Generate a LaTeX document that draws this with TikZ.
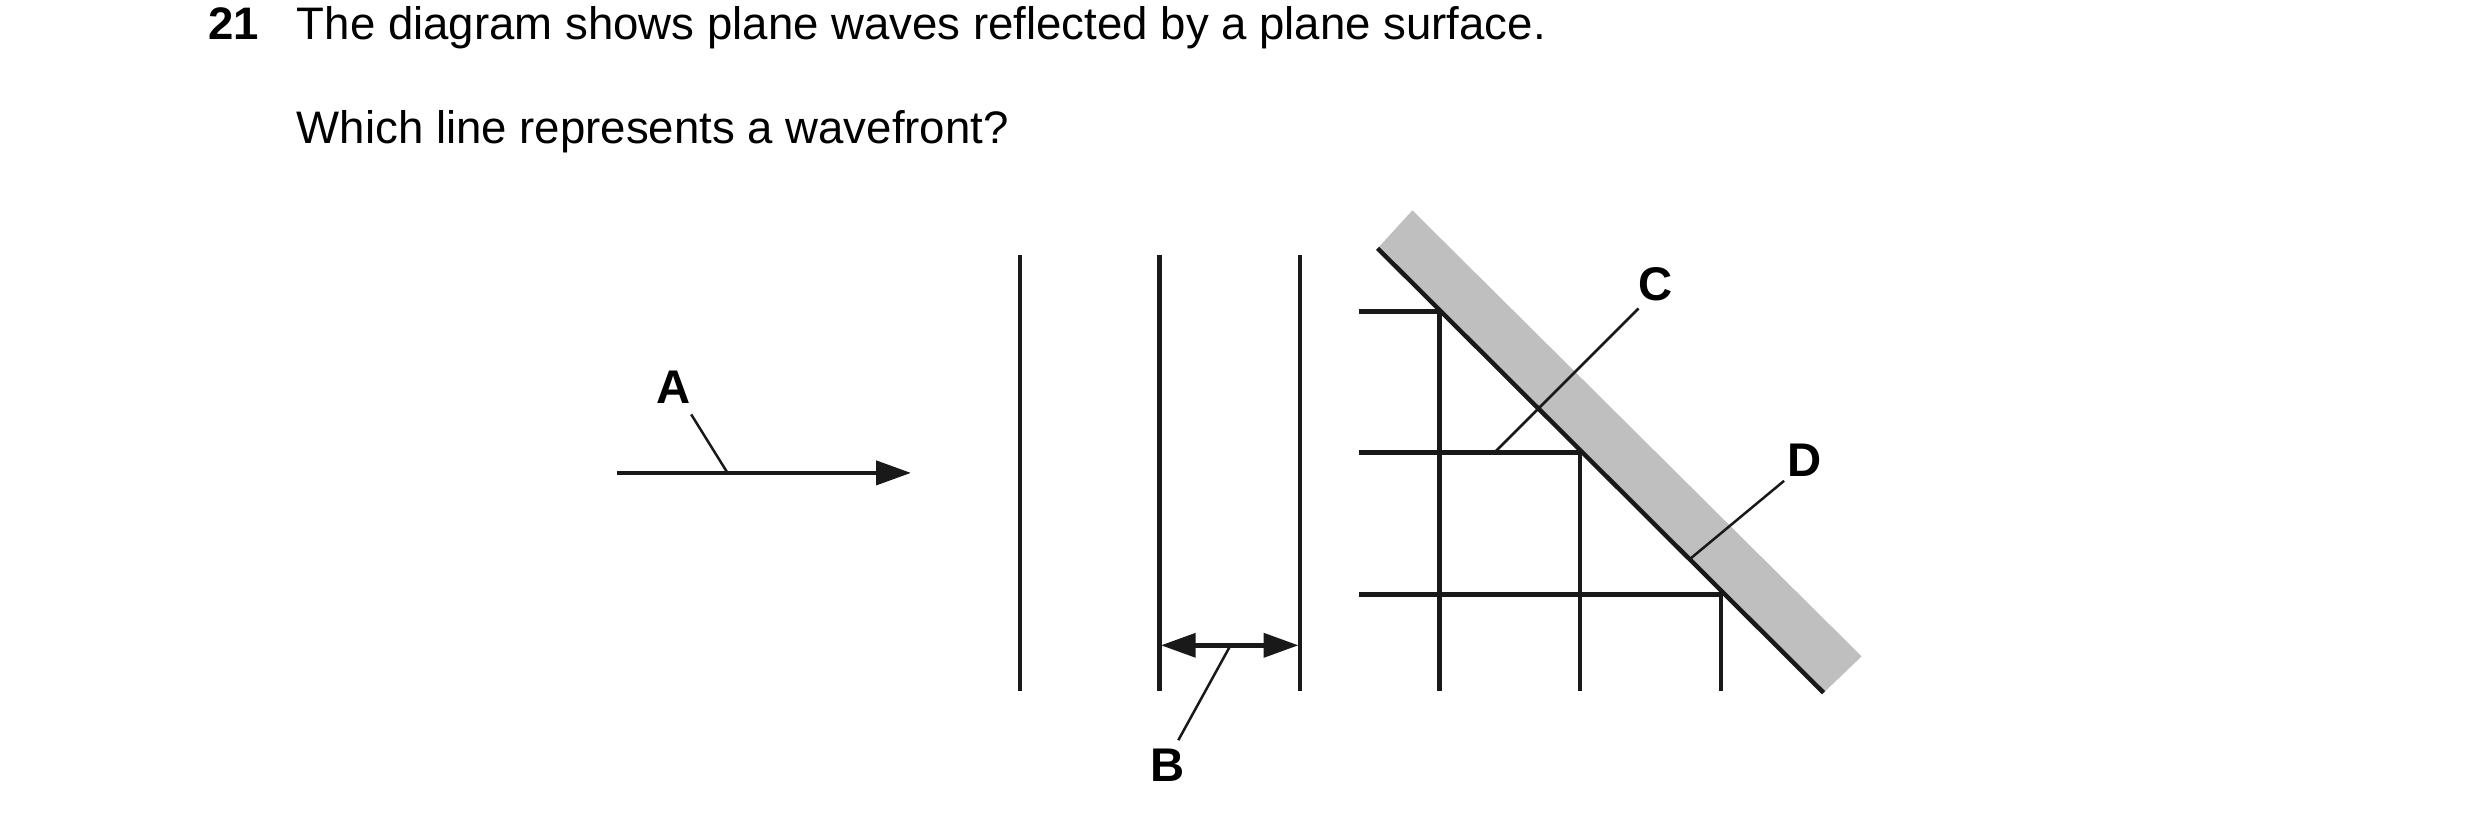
\documentclass[tikz,border=0pt]{standalone}
\usepackage{fontspec}
\setmainfont{Liberation Sans}
\usetikzlibrary{arrows.meta}
\begin{document}
\begin{tikzpicture}[x=0.1mm,y=-0.1mm,
  wave/.style={line width=0.8pt,black!90},
  thin/.style={line width=0.45pt,black!90},
  lab/.style={font=\fontsize{8.5}{10}\selectfont\bfseries,inner sep=0pt},
  txt/.style={font=\fontsize{8.2}{10}\selectfont,inner sep=0pt,anchor=base west},
  tip/.style={-{Triangle[length=2.2mm,width=1.5mm]}}]
\useasboundingbox (0,0) rectangle (1568,519);
\node[txt,font=\fontsize{8.2}{10}\selectfont\bfseries] (n) at (131,25) {21};
\node[txt] (t1) at (187,25) {The diagram shows plane waves reflected by a plane surface.};
\node[txt] (t2) at (187,91) {Which line represents a wavefront?};
% mirror
\fill[gray!50] (871,157) -- (893,133) -- (1177,415) -- (1153,438) -- cycle;
\coordinate (m1) at (871,157); \coordinate (m2) at (1153,438);
\draw[wave] (m1) -- (m2);
% ray A
\coordinate (a1) at (390,299); \coordinate (a2) at (576,299);
\draw[wave,tip] (a1) -- (a2);
\node[lab] (A) at (426,245) {A};
\coordinate (ap1) at (437,262); \coordinate (ap2) at (460,299);
\draw[thin] (ap1) -- (ap2);
% incident wavefronts
\foreach \x/\n in {645/w1,733/w2,822/w3}{
  \coordinate (\n t) at (\x,161); \coordinate (\n b) at (\x,437);
  \draw[wave] (\n t) -- (\n b);}
% B
\coordinate (b1) at (734,408); \coordinate (b2) at (821,408);
\draw[wave,{Triangle[length=2.2mm,width=1.5mm]}-{Triangle[length=2.2mm,width=1.5mm]}] (b1) -- (b2);
\coordinate (bp1) at (778,408); \coordinate (bp2) at (745,468);
\draw[thin] (bp1) -- (bp2);
\node[lab] (B) at (738,484) {B};
% grid
\foreach \y/\x/\n in {197/910/g1,286/999/g2,376/1088/g3}{
  \coordinate (\n l) at (859,\y); \coordinate (\n c) at (\x,\y); \coordinate (\n b) at (\x,437);
  \draw[wave] (\n l) -- (\n c) -- (\n b);}
\draw[wave] (910,286) -- (999,286);
\draw[wave] (910,376) -- (1088,376);
% C, D
\coordinate (cp1) at (945,286); \coordinate (cp2) at (1036,195);
\draw[thin] (cp1) -- (cp2);
\node[lab] (C) at (1047,180) {C};
\coordinate (dp1) at (1069,353); \coordinate (dp2) at (1128,304);
\draw[thin] (dp1) -- (dp2);
\node[lab] (D) at (1141,291) {D};
\end{tikzpicture}
\end{document}
